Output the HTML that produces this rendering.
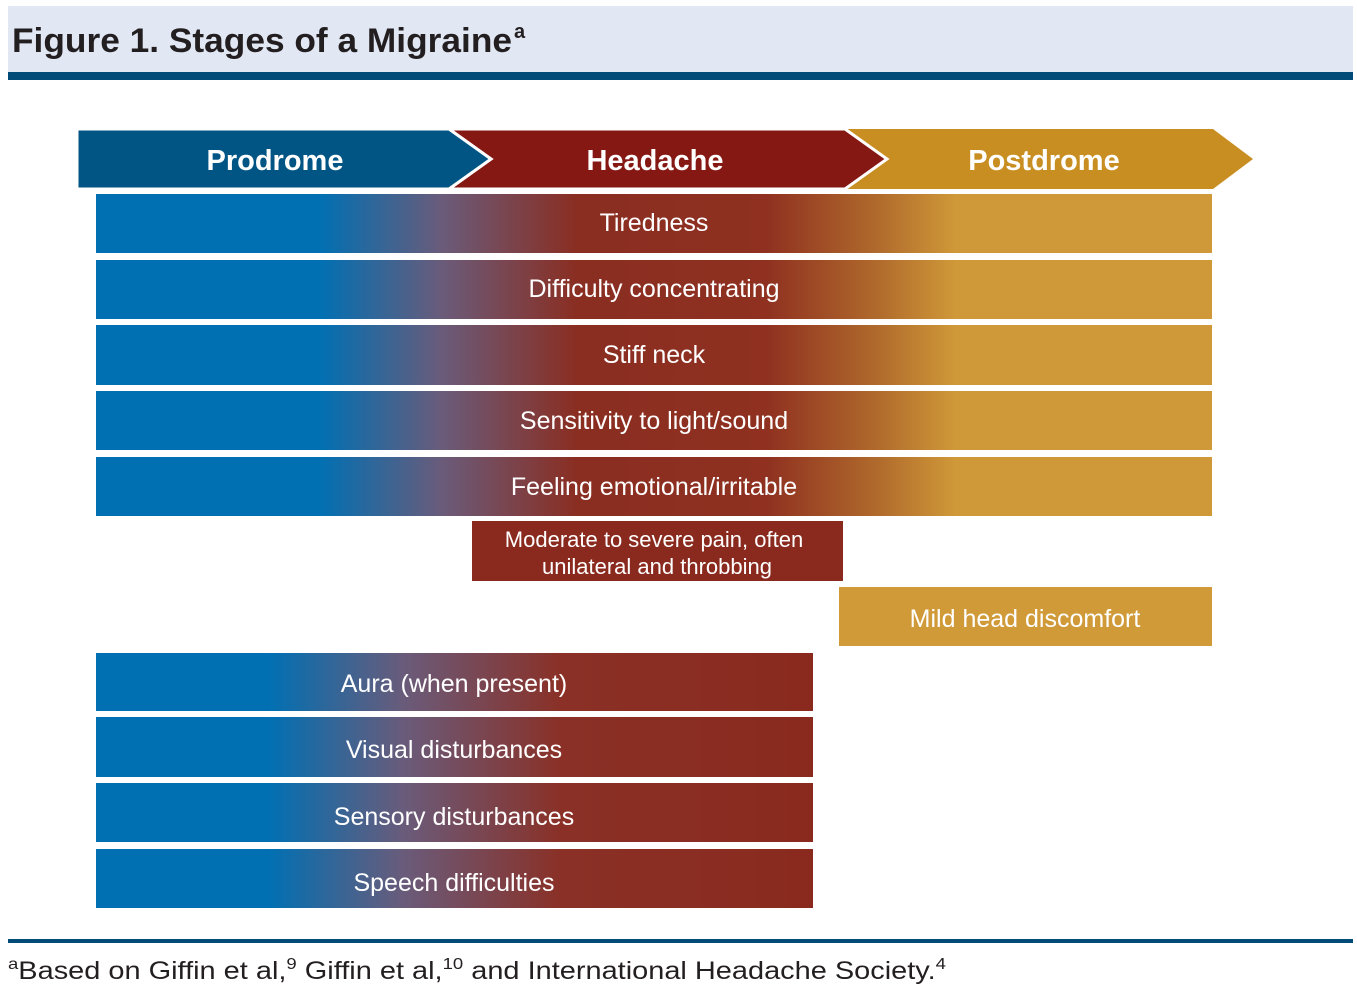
<!DOCTYPE html>
<html><head><meta charset="utf-8"><style>
html,body{margin:0;padding:0;background:#fff;}
svg{display:block;font-family:"Liberation Sans",sans-serif;}
</style></head><body>
<svg width="1357" height="995" viewBox="0 0 1357 995">
<defs>
<linearGradient id="g1" gradientUnits="userSpaceOnUse" x1="96" x2="1212" y1="0" y2="0">
<stop offset="0" stop-color="#0070b3"/>
<stop offset="0.2" stop-color="#0070b3"/>
<stop offset="0.31" stop-color="#6a5b7a"/>
<stop offset="0.43" stop-color="#8a2e22"/>
<stop offset="0.6" stop-color="#8f3020"/>
<stop offset="0.7" stop-color="#b06a2c"/>
<stop offset="0.77" stop-color="#cf9838"/>
<stop offset="1" stop-color="#cf9838"/>
</linearGradient>
<linearGradient id="g2" gradientUnits="userSpaceOnUse" x1="96" x2="813" y1="0" y2="0">
<stop offset="0" stop-color="#0070b3"/>
<stop offset="0.24" stop-color="#0070b3"/>
<stop offset="0.43" stop-color="#6a5b7a"/>
<stop offset="0.65" stop-color="#8a3026"/>
<stop offset="1" stop-color="#8a2a1e"/>
</linearGradient>
</defs>
<rect x="8" y="6" width="1345" height="66" fill="#e1e7f3"/>
<rect x="8" y="72" width="1345" height="8" fill="#004b78"/>
<text x="12" y="52" font-size="34" font-weight="bold" fill="#231f20" textLength="500" lengthAdjust="spacingAndGlyphs">Figure 1. Stages of a Migraine</text>
<text x="514" y="38" font-size="20" font-weight="bold" fill="#231f20">a</text>

<polygon points="845,129 1213,129 1253,159 1213,189 845,189 887,159" fill="#c98e22"/>
<polygon points="449,129 845,129 887,159 845,189 449,189 491,159" fill="#861814" stroke="#fff" stroke-width="3"/>
<polygon points="77,129 449,129 491,159 449,189 77,189" fill="#005585" stroke="#fff" stroke-width="3"/>
<rect x="77" y="127" width="3" height="0" fill="#fff"/>
<g fill="#fff" font-size="29" font-weight="bold" text-anchor="middle">
<text x="275" y="170">Prodrome</text>
<text x="655" y="170">Headache</text>
<text x="1044" y="170">Postdrome</text>
</g>

<g fill="url(#g1)">
<rect x="96" y="194" width="1116" height="59"/>
<rect x="96" y="260" width="1116" height="59"/>
<rect x="96" y="325" width="1116" height="60"/>
<rect x="96" y="391" width="1116" height="59"/>
<rect x="96" y="457" width="1116" height="59"/>
</g>
<g fill="#fff" font-size="25" text-anchor="middle">
<text x="654" y="231">Tiredness</text>
<text x="654" y="297">Difficulty concentrating</text>
<text x="654" y="363">Stiff neck</text>
<text x="654" y="429">Sensitivity to light/sound</text>
<text x="654" y="495">Feeling emotional/irritable</text>
</g>
<rect x="472" y="521" width="371" height="60" fill="#8a2a1e"/>
<text x="654" y="547" fill="#fff" font-size="22" text-anchor="middle">Moderate to severe pain, often</text>
<text x="657" y="574" fill="#fff" font-size="22" text-anchor="middle">unilateral and throbbing</text>
<rect x="839" y="587" width="373" height="59" fill="#d09a38"/>
<text x="1025" y="627" fill="#fff" font-size="25" text-anchor="middle">Mild head discomfort</text>

<g fill="url(#g2)">
<rect x="96" y="653" width="717" height="58"/>
<rect x="96" y="717" width="717" height="60"/>
<rect x="96" y="783" width="717" height="59"/>
<rect x="96" y="849" width="717" height="59"/>
</g>
<g fill="#fff" font-size="25" text-anchor="middle">
<text x="454" y="692">Aura (when present)</text>
<text x="454" y="758">Visual disturbances</text>
<text x="454" y="825">Sensory disturbances</text>
<text x="454" y="891">Speech difficulties</text>
</g>

<rect x="8" y="939" width="1345" height="4" fill="#004b78"/>
<text x="8" y="979" font-size="25" fill="#231f20" textLength="938" lengthAdjust="spacingAndGlyphs"><tspan font-size="16" dy="-10">a</tspan><tspan dy="10">Based on Giffin et al,</tspan><tspan font-size="16" dy="-10">9</tspan><tspan dy="10"> Giffin et al,</tspan><tspan font-size="16" dy="-10">10</tspan><tspan dy="10"> and International Headache Society.</tspan><tspan font-size="16" dy="-10">4</tspan></text>
</svg>
</body></html>
